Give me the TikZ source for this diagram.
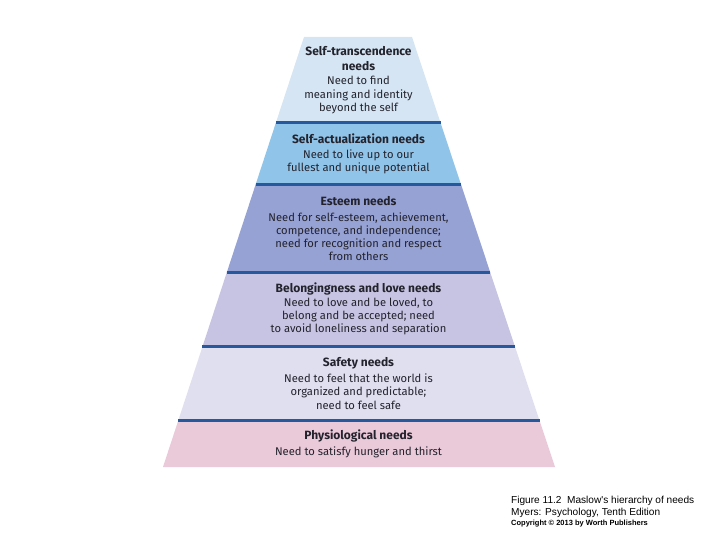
\documentclass[tikz,border=0pt]{standalone}
\usepackage{fontspec}
\setmainfont{Fira Sans}
\newfontfamily\capfont{Liberation Sans}
\usetikzlibrary{calc}
\definecolor{bandA}{RGB}{213,229,243}
\definecolor{bandB}{RGB}{145,196,233}
\definecolor{bandC}{RGB}{150,161,212}
\definecolor{bandD}{RGB}{198,196,226}
\definecolor{bandE}{RGB}{224,223,240}
\definecolor{bandF}{RGB}{234,201,217}
\definecolor{sepblue}{RGB}{38,88,158}
\definecolor{txt}{RGB}{35,35,45}
\tikzset{
  ttl/.style={font=\fontsize{12}{15}\selectfont\bfseries, text=txt, align=center, inner sep=0pt},
  bdy/.style={font=\fontsize{11.2}{13.2}\selectfont, text=txt, align=center, inner sep=0pt},
  sep/.style={draw=sepblue, line width=3pt},
  captext/.style={text=black, align=left, anchor=west, inner sep=0pt}
}
\begin{document}
\begin{tikzpicture}[x=1pt,y=-1pt]
\useasboundingbox (0,0) rectangle (720,540);
\coordinate (TL) at (304,37);
\coordinate (TR) at (412,37);
\coordinate (BL) at (163,467);
\coordinate (BR) at (555,467);
% band boundaries
\foreach \n/\t in {a/0,b/0.2,c/0.3419,d/0.5488,e/0.7209,f/0.893,g/1}{
  \coordinate (L\n) at ($(TL)!\t!(BL)$);
  \coordinate (R\n) at ($(TR)!\t!(BR)$);
}
\fill[bandA] (La) -- (Ra) -- (Rb) -- (Lb) -- cycle;
\fill[bandB] (Lb) -- (Rb) -- (Rc) -- (Lc) -- cycle;
\fill[bandC] (Lc) -- (Rc) -- (Rd) -- (Ld) -- cycle;
\fill[bandD] (Ld) -- (Rd) -- (Re) -- (Le) -- cycle;
\fill[bandE] (Le) -- (Re) -- (Rf) -- (Lf) -- cycle;
\fill[bandF] (Lf) -- (Rf) -- (Rg) -- (Lg) -- cycle;
\foreach \n in {b,c,d,e,f}{
  \draw[sep] (L\n) -- (R\n);
}
% texts
\node[ttl] (t1) at (358.5,58.5) {Self-transcendence\\needs};
\node[bdy] (b1) at (358.5,95) {Need to find\\meaning and identity\\beyond the self};
\node[ttl] (t2) at (358.5,139) {Self-actualization needs};
\node[bdy] (b2) at (358.5,161.5) {Need to live up to our\\fullest and unique potential};
\node[ttl] (t3) at (358.5,201) {Esteem needs};
\node[bdy] (b3) at (358.5,236.5) {Need for self-esteem, achievement,\\competence, and independence;\\need for recognition and respect\\from others};
\node[ttl] (t4) at (358.5,289) {Belongingness and love needs};
\node[bdy] (b4) at (358.5,316.5) {Need to love and be loved, to\\belong and be accepted; need\\to avoid loneliness and separation};
\node[ttl] (t5) at (358.5,363) {Safety needs};
\node[bdy] (b5) at (358.5,391.5) {Need to feel that the world is\\organized and predictable;\\need to feel safe};
\node[ttl] (t6) at (358.5,436) {Physiological needs};
\node[bdy] (b6) at (358.5,452) {Need to satisfy hunger and thirst};
% caption
\node[captext, font=\capfont\fontsize{10.1}{11}\selectfont] (c1) at (511,501) {Figure 11.2\ \ Maslow's hierarchy of needs};
\node[captext, font=\capfont\fontsize{10.1}{11}\selectfont] (c2) at (511,513) {Myers: Psychology, Tenth Edition};
\node[captext, font=\capfont\fontsize{7.5}{8}\selectfont\bfseries] (c3) at (511,524) {Copyright © 2013 by Worth Publishers};
\end{tikzpicture}
\end{document}
